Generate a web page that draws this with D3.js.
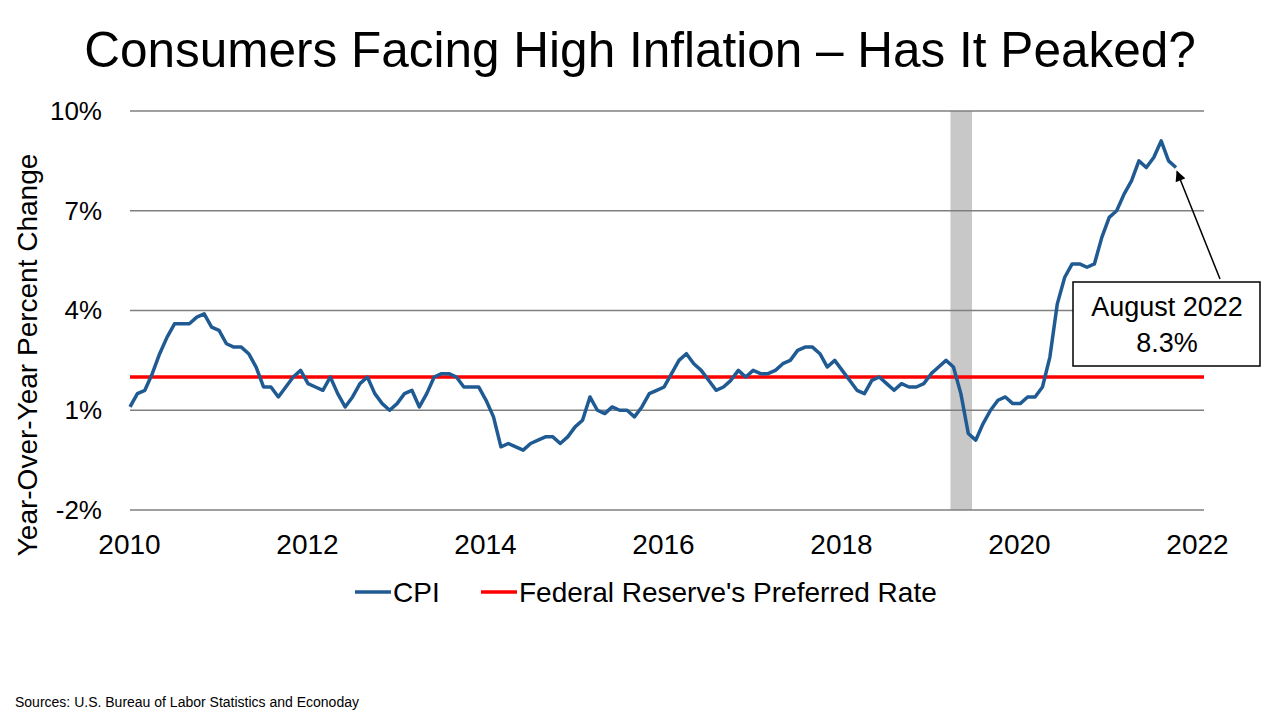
<!DOCTYPE html>
<html>
<head>
<meta charset="utf-8">
<script src="https://cdn.jsdelivr.net/npm/d3@7"></script>
<style>
  body { margin: 0; background: #fff; }
  svg { display: block; font-family: "Liberation Sans", Arial, sans-serif; }
</style>
</head>
<body>
<svg id="chart" width="1280" height="720"></svg>
<script>
// ---- Data ----
// Monthly CPI year-over-year % change, Nov 2010 .. Aug 2022
const startYear = 2010, startMonth = 11;
const cpiValues = [
  1.1, 1.5,
  1.6, 2.1, 2.7, 3.2, 3.6, 3.6, 3.6, 3.8, 3.9, 3.5, 3.4, 3.0,
  2.9, 2.9, 2.7, 2.3, 1.7, 1.7, 1.4, 1.7, 2.0, 2.2, 1.8, 1.7,
  1.6, 2.0, 1.5, 1.1, 1.4, 1.8, 2.0, 1.5, 1.2, 1.0, 1.2, 1.5,
  1.6, 1.1, 1.5, 2.0, 2.1, 2.1, 2.0, 1.7, 1.7, 1.7, 1.3, 0.8,
  -0.1, 0.0, -0.1, -0.2, 0.0, 0.1, 0.2, 0.2, 0.0, 0.2, 0.5, 0.7,
  1.4, 1.0, 0.9, 1.1, 1.0, 1.0, 0.8, 1.1, 1.5, 1.6, 1.7, 2.1,
  2.5, 2.7, 2.4, 2.2, 1.9, 1.6, 1.7, 1.9, 2.2, 2.0, 2.2, 2.1,
  2.1, 2.2, 2.4, 2.5, 2.8, 2.9, 2.9, 2.7, 2.3, 2.5, 2.2, 1.9,
  1.6, 1.5, 1.9, 2.0, 1.8, 1.6, 1.8, 1.7, 1.7, 1.8, 2.1, 2.3,
  2.5, 2.3, 1.5, 0.3, 0.1, 0.6, 1.0, 1.3, 1.4, 1.2, 1.2, 1.4,
  1.4, 1.7, 2.6, 4.2, 5.0, 5.4, 5.4, 5.3, 5.4, 6.2, 6.8, 7.0,
  7.5, 7.9, 8.5, 8.3, 8.6, 9.1, 8.5, 8.3
];
const fedTarget = 2;                       // Federal Reserve's preferred rate (%)
const recession = [110.6, 113.5];          // shaded band, in month index (Feb–Apr 2020)
const yTicks = [-2, 1, 4, 7, 10];
const xTickYears = [2010, 2012, 2014, 2016, 2018, 2020, 2022];
const titleText = "Consumers Facing High Inflation \u2013 Has It Peaked?";
const yTitle = "Year-Over-Year Percent Change";
const seriesNames = ["CPI", "Federal Reserve's Preferred Rate"];
const annotationLines = ["August 2022", "8.3%"];
const sourceText = "Sources: U.S. Bureau of Labor Statistics and Econoday";

const cpi = cpiValues.map((v, i) => ({ i, v }));

// ---- Layout ----
const svg = d3.select("#chart");
const plotLeft = 130, plotRight = 1204, plotTop = 111, plotBottom = 510;
const blue = "#1F5B92", red = "#FF0000", grid = "#7F7F7F";
const FONT = "Liberation Sans, Arial, sans-serif";

const y = d3.scaleLinear().domain([-2, 10]).range([plotBottom, plotTop]);
const xData = d3.scaleLinear().domain([0, cpiValues.length - 1]).range([130, 1176]);
const xAxisScale = d3.scaleLinear().domain([2010, 2022]).range([129, 1197]);

// Title
svg.append("text").attr("x", 640).attr("y", 67).attr("text-anchor", "middle")
  .attr("font-size", 49.5).attr("fill", "#000").text(titleText);

// Recession band
svg.append("rect")
  .attr("x", xData(recession[0])).attr("width", xData(recession[1]) - xData(recession[0]))
  .attr("y", y(10)).attr("height", y(-2) - y(10))
  .attr("fill", "#C8C8C8");

// Gridlines
svg.append("g").selectAll("line").data(yTicks).join("line")
  .attr("x1", plotLeft).attr("x2", plotRight)
  .attr("y1", d => y(d)).attr("y2", d => y(d))
  .attr("stroke", grid).attr("stroke-width", 1.5);

// Y axis labels
const yAxis = d3.axisLeft(y).tickValues(yTicks).tickFormat(d => d + "%").tickSize(0).tickPadding(0);
const yG = svg.append("g").attr("transform", "translate(102,0)").call(yAxis);
yG.select(".domain").remove();
yG.selectAll("text").attr("font-size", 26).attr("fill", "#000").attr("font-family", FONT);

// X axis labels
const xAxis = d3.axisBottom(xAxisScale).tickValues(xTickYears).tickFormat(d3.format("d")).tickSize(0).tickPadding(0);
const xG = svg.append("g").attr("transform", "translate(0,554)").call(xAxis);
xG.select(".domain").remove();
xG.selectAll("text").attr("font-size", 28).attr("fill", "#000").attr("font-family", FONT)
  .attr("dy", 0);

// Y title
svg.append("text")
  .attr("transform", "translate(37,355) rotate(-90)")
  .attr("text-anchor", "middle").attr("font-size", 28).attr("fill", "#000")
  .text(yTitle);

// Fed target line
svg.append("line")
  .attr("x1", plotLeft).attr("x2", plotRight)
  .attr("y1", y(fedTarget)).attr("y2", y(fedTarget))
  .attr("stroke", red).attr("stroke-width", 3.5);

// CPI line
const line = d3.line().x(d => xData(d.i)).y(d => y(d.v));
svg.append("path").datum(cpi).attr("d", line)
  .attr("fill", "none").attr("stroke", blue).attr("stroke-width", 3.5)
  .attr("stroke-linejoin", "round");

// Annotation
const last = cpi[cpi.length - 1];
const defs = svg.append("defs");
defs.append("marker").attr("id", "arrow").attr("viewBox", "0 0 10 10")
  .attr("refX", 9).attr("refY", 5).attr("markerWidth", 8).attr("markerHeight", 7)
  .attr("orient", "auto-start-reverse")
  .append("path").attr("d", "M0,0 L10,5 L0,10 z").attr("fill", "#000");
svg.append("line")
  .attr("x1", 1220).attr("y1", 279)
  .attr("x2", xData(last.i) + 1).attr("y2", y(last.v) + 4)
  .attr("stroke", "#000").attr("stroke-width", 1.5)
  .attr("marker-end", "url(#arrow)");
svg.append("rect").attr("x", 1073).attr("y", 282).attr("width", 187).attr("height", 84)
  .attr("fill", "#fff").attr("stroke", "#000").attr("stroke-width", 1.5);
svg.append("text").attr("x", 1167).attr("y", 316).attr("text-anchor", "middle")
  .attr("font-size", 27).attr("fill", "#000").text(annotationLines[0]);
svg.append("text").attr("x", 1167).attr("y", 352).attr("text-anchor", "middle")
  .attr("font-size", 27).attr("fill", "#000").text(annotationLines[1]);

// Legend
const legend = svg.append("g");
const legendItems = [
  { name: seriesNames[0], color: blue, x: 355 },
  { name: seriesNames[1], color: red, x: 481 }
];
legendItems.forEach(it => {
  legend.append("line").attr("x1", it.x).attr("x2", it.x + 36)
    .attr("y1", 592).attr("y2", 592).attr("stroke", it.color).attr("stroke-width", 3.5);
  legend.append("text").attr("x", it.x + 38).attr("y", 602)
    .attr("font-size", 28).attr("fill", "#000").text(it.name);
});

// Source
svg.append("text").attr("x", 15).attr("y", 707).attr("font-size", 14).attr("fill", "#000")
  .text(sourceText);
</script>
</body>
</html>
